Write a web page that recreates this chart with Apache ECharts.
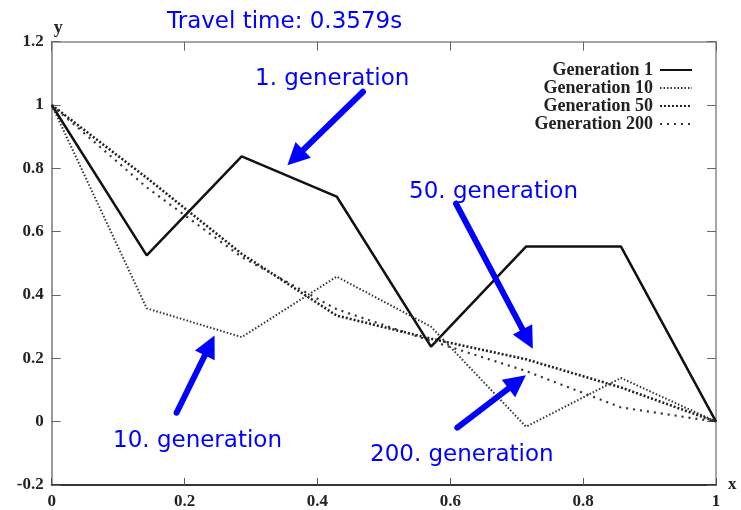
<!DOCTYPE html>
<html>
<head>
<meta charset="utf-8">
<script src="https://cdn.jsdelivr.net/npm/echarts@6/dist/echarts.min.js"></script>
<style>
  html, body { margin: 0; padding: 0; background: #fff; }
  #chart { width: 741px; height: 510px; }
</style>
</head>
<body>
<div id="chart"></div>
<script>
// x positions of the 8 nodes
const xs = [0, 0.143, 0.286, 0.429, 0.571, 0.714, 0.857, 1];
const gen1 = [1, 0.525, 0.838, 0.711, 0.237, 0.553, 0.553, 0];
const gen10 = [1, 0.358, 0.267, 0.458, 0.30, -0.016, 0.138, 0];
const gen50 = [1, 0.77, 0.53, 0.335, 0.262, 0.197, 0.108, 0];
const gen200 = [1, 0.74, 0.52, 0.355, 0.255, 0.16, 0.045, 0];
const seriesNames = ['Generation 1', 'Generation 10', 'Generation 50', 'Generation 200'];

// annotation arrows, [from, to] in data units
const arrows = [
  [[0.4686, 1.042], [0.3667, 0.834]],
  [[0.6086, 0.6887], [0.7165, 0.2607]],
  [[0.188, 0.0283], [0.2378, 0.2406]],
  [[0.6106, -0.0189], [0.7007, 0.1258]]
];

const pairs = ys => xs.map((x, i) => [x, ys[i]]);
const blue = '#0000ff';
const serif = 'Liberation Serif';
const sans = 'DejaVu Sans';

const chart = echarts.init(document.getElementById('chart'));

function note(text, left, y, size) {
  return {
    type: 'text',
    left: left,
    top: y,
    silent: true,
    style: { text: text, fill: blue, font: (size || 23) + 'px "' + sans + '"' }
  };
}

const lineSeries = (name, ys, style) => ({
  name: name,
  type: 'line',
  symbol: 'none',
  data: pairs(ys),
  lineStyle: style,
  itemStyle: { color: style.color },
  z: 3
});

const option = {
  animation: false,
  backgroundColor: '#fff',
  grid: { left: 51.7, right: 25, top: 41.7, bottom: 23.3 },
  legend: {
    data: seriesNames,
    orient: 'vertical',
    right: 43,
    top: 56,
    align: 'right',
    itemGap: 0,
    itemWidth: 32,
    itemHeight: 8,
    itemStyle: { opacity: 0 },
    textStyle: { fontFamily: serif, fontWeight: 'bold', fontSize: 18, color: '#222', lineHeight: 17.7, padding: [0, 2, 0, 0] }
  },
  xAxis: [{
    type: 'value', min: 0, max: 1, interval: 0.2,
    name: 'x', nameLocation: 'end', nameGap: 12,
    nameTextStyle: { fontFamily: serif, fontWeight: 'bold', fontSize: 17, color: '#222' },
    axisLine: { onZero: false, lineStyle: { color: '#333', width: 2 } },
    axisTick: { inside: true, length: 7, lineStyle: { color: '#555' } },
    axisLabel: { margin: 8, fontFamily: serif, fontWeight: 'bold', fontSize: 17, color: '#222' },
    splitLine: { show: false }
  }, {
    type: 'value', min: 0, max: 1, interval: 0.2, position: 'top',
    axisLine: { show: true, onZero: false, lineStyle: { color: '#888', width: 1.5 } },
    axisTick: { show: true, inside: true, length: 9, lineStyle: { color: '#666' } },
    axisLabel: { show: false },
    splitLine: { show: false }
  }],
  yAxis: [{
    type: 'value', min: -0.2, max: 1.2, interval: 0.2,
    name: 'y', nameLocation: 'end', nameGap: 4,
    nameTextStyle: { fontFamily: serif, fontWeight: 'bold', fontSize: 18, color: '#222', align: 'left', padding: [0, 0, 0, 2] },
    axisLine: { show: true, onZero: false, lineStyle: { color: '#777', width: 1.5 } },
    axisTick: { show: true, inside: true, length: 9, lineStyle: { color: '#666' } },
    axisLabel: { margin: 8, fontFamily: serif, fontWeight: 'bold', fontSize: 17, color: '#222' },
    splitLine: { show: false }
  }, {
    type: 'value', min: -0.2, max: 1.2, interval: 0.2, position: 'right',
    axisLine: { show: true, onZero: false, lineStyle: { color: '#888', width: 1.5 } },
    axisTick: { show: true, inside: true, length: 9, lineStyle: { color: '#666' } },
    axisLabel: { show: false },
    splitLine: { show: false }
  }],
  series: [
    lineSeries(seriesNames[0], gen1, { color: '#111', width: 2.5, type: 'solid' }),
    lineSeries(seriesNames[1], gen10, { color: '#333', width: 2, type: [1.5, 2] }),
    lineSeries(seriesNames[2], gen50, { color: '#222', width: 2.6, type: [2, 2] }),
    lineSeries(seriesNames[3], gen200, { color: '#333', width: 2.2, type: [2, 5] }),
    {
      type: 'line',
      data: [],
      z: 5,
      markLine: {
        silent: true,
        symbol: ['none', 'triangle'],
        symbolSize: 22,
        label: { show: false },
        lineStyle: { color: blue, width: 6, type: 'solid', cap: 'round' },
        data: arrows.map(a => [{ coord: a[0] }, { coord: a[1] }])
      }
    }
  ],
  graphic: [
    note('Travel time: 0.3579s', 167, 11),
    note('1. generation', 255, 68),
    note('50. generation', 409, 181),
    note('10. generation', 113, 430),
    note('200. generation', 370, 444)
  ]
};

chart.setOption(option);
</script>
</body>
</html>
